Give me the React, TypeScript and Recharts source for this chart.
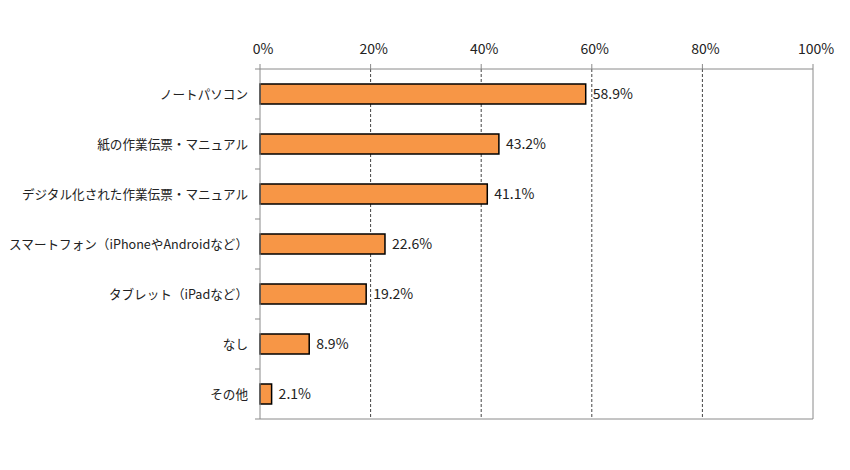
import { Bar, BarChart, CartesianGrid, LabelList, XAxis, YAxis } from 'recharts';

const categories = [
  'ノートパソコン',
  '紙の作業伝票・マニュアル',
  'デジタル化された作業伝票・マニュアル',
  'スマートフォン（iPhoneやAndroidなど）',
  'タブレット（iPadなど）',
  'なし',
  'その他',
];
const shares = [58.9, 43.2, 41.1, 22.6, 19.2, 8.9, 2.1];
const pctTicks = [0, 20, 40, 60, 80, 100];

const data = categories.map((name, i) => ({ name, v: shares[i] }));

const FONT = '"Noto Sans CJK JP", "Noto Sans", sans-serif';
const AXIS = '#8a8a8a';

// label on the left plus the little boundary tick marks between categories
function CategoryTick(props: any) {
  const { x, y, payload, index } = props;
  const half = payload?.offset || 25;
  const ax = x + 12;
  return (
    <g>
      <text x={x} y={y} dy="0.36em" textAnchor="end" fontSize={12.6} fill="#222" fontFamily={FONT}>
        {payload.value}
      </text>
      <line x1={ax - 5} x2={ax} y1={y + half} y2={y + half} stroke={AXIS} />
      {index === 0 && <line x1={ax - 5} x2={ax} y1={y - half} y2={y - half} stroke={AXIS} />}
    </g>
  );
}

export default function App() {
  return (
    <div style={{ fontFamily: FONT }}>
      <BarChart
        width={834}
        height={454}
        data={data}
        layout="vertical"
        barCategoryGap="30%"
        margin={{ top: 31, right: 29, bottom: 43, left: 0 }}
      >
        {/* dashed inner gridlines */}
        <CartesianGrid
          horizontal={false}
          vertical
          stroke="#444"
          strokeDasharray="3 2"
          verticalCoordinatesGenerator={({ offset }: any) =>
            [1, 2, 3, 4].map((k) => offset.left + (offset.width * k) / 5)
          }
        />
        {/* solid frame on the right and bottom */}
        <CartesianGrid
          horizontal
          vertical
          stroke={AXIS}
          horizontalCoordinatesGenerator={({ offset }: any) => [offset.top + offset.height]}
          verticalCoordinatesGenerator={({ offset }: any) => [offset.left + offset.width]}
        />
        <XAxis
          type="number"
          orientation="top"
          domain={[0, 100]}
          ticks={pctTicks}
          tickFormatter={(v: number) => `${v}%`}
          height={30}
          tickSize={5}
          tickMargin={10}
          axisLine={{ stroke: AXIS }}
          tickLine={{ stroke: AXIS }}
          tick={{ fontSize: 14, fill: '#222', fontFamily: FONT, dx: 3 }}
          interval={0}
        />
        <YAxis
          type="category"
          dataKey="name"
          width={252}
          tickSize={0}
          tickMargin={12}
          axisLine={{ stroke: AXIS }}
          tick={<CategoryTick />}
          interval={0}
        />
        <Bar dataKey="v" fill="#F79646" stroke="#000" strokeWidth={1.5} isAnimationActive={false}>
          <LabelList
            dataKey="v"
            position="right"
            offset={7}
            formatter={(v: any) => `${Number(v).toFixed(1)}%`}
            style={{ fontSize: 14, fill: '#222', fontFamily: FONT }}
          />
        </Bar>
      </BarChart>
    </div>
  );
}
